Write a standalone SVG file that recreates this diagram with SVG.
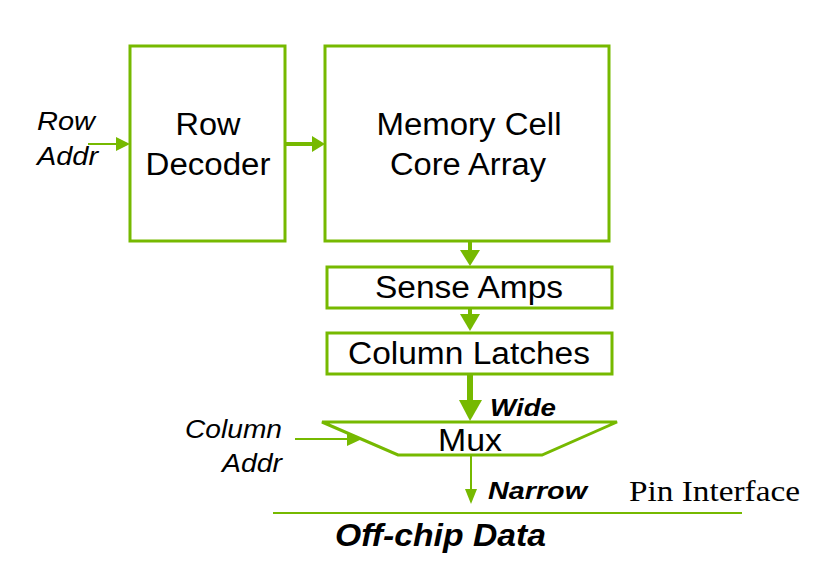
<svg xmlns="http://www.w3.org/2000/svg" width="821" height="563" viewBox="0 0 821 563">
<style>
.box{fill:#fff;stroke:#76b900;stroke-width:3}
.ln{stroke:#76b900;fill:none}
.hd{fill:#76b900}
.t{font-family:"Liberation Sans",Arial,sans-serif;fill:#000;font-size:31px}
.i{font-family:"Liberation Sans",Arial,sans-serif;fill:#000;font-size:25px;font-style:italic}
.bi{font-family:"Liberation Sans",Arial,sans-serif;fill:#000;font-weight:bold;font-style:italic}
.tm{font-family:"Liberation Serif","Times New Roman",serif;fill:#000;font-size:30px}
</style>
<rect width="821" height="563" fill="#fff"/>
<g id="connectors">
<line class="ln" x1="88" y1="144" x2="118" y2="144" stroke-width="2"/>
<polygon class="hd" points="116,137 130,144 116,151"/>
<line class="ln" x1="286" y1="144" x2="314" y2="144" stroke-width="4"/>
<polygon class="hd" points="312,136 325,144 312,152"/>
<line class="ln" x1="470" y1="242" x2="470" y2="252" stroke-width="4"/>
<polygon class="hd" points="460,250 480,250 470,266"/>
<line class="ln" x1="470" y1="308" x2="470" y2="316" stroke-width="4"/>
<polygon class="hd" points="460,314 480,314 470,331"/>
<line class="ln" x1="470" y1="375" x2="470" y2="402" stroke-width="6"/>
<polygon class="hd" points="459,400 482,400 470,421"/>
<line class="ln" x1="295" y1="439" x2="350" y2="439" stroke-width="2"/>
<polygon class="hd" points="347,432 362,439 347,446"/>
<line class="ln" x1="471" y1="455" x2="471" y2="491" stroke-width="2"/>
<polygon class="hd" points="465,489 477,489 471,504"/>
<line class="ln" x1="273" y1="513" x2="742" y2="513" stroke-width="2"/>
</g>
<g id="row-decoder">
<rect class="box" x="130" y="46" width="155" height="195"/>
<text class="t" x="208" y="135" text-anchor="middle" textLength="65" lengthAdjust="spacingAndGlyphs">Row</text>
<text class="t" x="208" y="175" text-anchor="middle" textLength="125" lengthAdjust="spacingAndGlyphs">Decoder</text>
</g>
<g id="memory-array">
<rect class="box" x="325" y="46" width="284" height="195"/>
<text class="t" x="469" y="135" text-anchor="middle" textLength="185" lengthAdjust="spacingAndGlyphs">Memory Cell</text>
<text class="t" x="468" y="175" text-anchor="middle" textLength="156" lengthAdjust="spacingAndGlyphs">Core Array</text>
</g>
<g id="sense-amps">
<rect class="box" x="327" y="267" width="285" height="41"/>
<text class="t" x="469" y="298" text-anchor="middle" textLength="188" lengthAdjust="spacingAndGlyphs">Sense Amps</text>
</g>
<g id="column-latches">
<rect class="box" x="327" y="333" width="285" height="41"/>
<text class="t" x="469" y="364" text-anchor="middle" textLength="242" lengthAdjust="spacingAndGlyphs">Column Latches</text>
</g>
<g id="mux">
<polygon class="box" points="322,422 617,422 542,455 398,455"/>
<text class="t" x="470" y="451" text-anchor="middle" textLength="64" lengthAdjust="spacingAndGlyphs">Mux</text>
</g>
<g id="labels">
<text class="i" x="37" y="130" textLength="58" lengthAdjust="spacingAndGlyphs">Row</text>
<text class="i" x="37" y="165" textLength="61" lengthAdjust="spacingAndGlyphs">Addr</text>
<text class="i" x="282" y="438" text-anchor="end" textLength="97" lengthAdjust="spacingAndGlyphs">Column</text>
<text class="i" x="282" y="472" text-anchor="end" textLength="60" lengthAdjust="spacingAndGlyphs">Addr</text>
<text class="bi" x="490" y="416" font-size="23" textLength="66" lengthAdjust="spacingAndGlyphs">Wide</text>
<text class="bi" x="488" y="499" font-size="23" textLength="99" lengthAdjust="spacingAndGlyphs">Narrow</text>
<text class="tm" x="629" y="501" textLength="171" lengthAdjust="spacingAndGlyphs">Pin Interface</text>
<text class="bi" x="335" y="546" font-size="31" textLength="211" lengthAdjust="spacingAndGlyphs">Off-chip Data</text>
</g>
</svg>
